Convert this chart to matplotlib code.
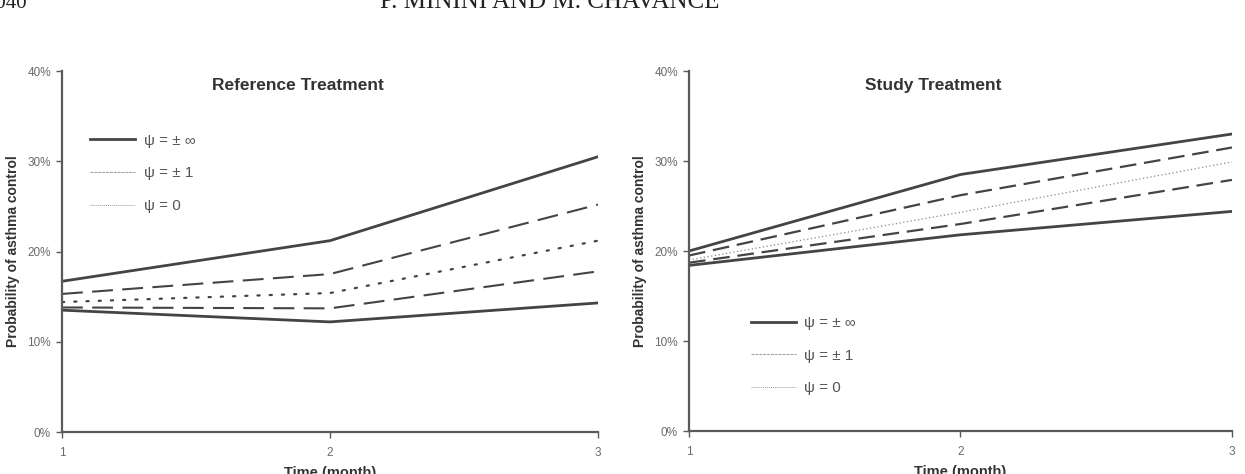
import matplotlib
matplotlib.use("Agg")
import matplotlib.pyplot as plt
from matplotlib.lines import Line2D
from matplotlib.ticker import FuncFormatter

# Data, probability in %
months = [1, 2, 3]

ref_upper_inf = [16.7, 21.2, 30.5]
ref_upper_one = [15.3, 17.5, 25.2]
ref_zero = [14.4, 15.4, 21.2]
ref_lower_one = [13.8, 13.7, 17.8]
ref_lower_inf = [13.5, 12.2, 14.3]

study_upper_inf = [20.0, 28.5, 33.0]
study_upper_one = [19.5, 26.2, 31.5]
study_zero = [19.0, 24.3, 29.9]
study_lower_one = [18.7, 23.0, 27.9]
study_lower_inf = [18.4, 21.8, 24.4]

legend_labels = ["\u03c8 = \u00b1 \u221e", "\u03c8 = \u00b1 1", "\u03c8 = 0"]
yticks = [0, 10, 20, 30, 40]

dark = "#444444"
spine_c = "#5a5a5a"
tick_c = "#6a6a6a"

plt.rcParams['font.family'] = ['Liberation Sans', 'DejaVu Sans']

fig = plt.figure(figsize=(12.45, 4.74), dpi=100, facecolor="w")

# running page header, mostly cut off at the top (as in the scan)
fig.text(-0.012, 0.983, "1040", fontsize=15, family="Liberation Serif",
         color="#222222", va="baseline", ha="left")
fig.text(0.305, 0.983, "P. MININI AND M. CHAVANCE", fontsize=18,
         family="Liberation Serif", color="#222222", va="baseline", ha="left")

ax0 = fig.add_axes([0.0498, 0.0886, 0.4305, 0.7616])
ax1 = fig.add_axes([0.5534, 0.0907, 0.4361, 0.7595])


def style_axes(ax, title, title_x):
    ax.set_xlim(1, 3)
    ax.set_ylim(0, 40)
    ax.set_xticks(months)
    ax.set_yticks(yticks)
    ax.yaxis.set_major_formatter(FuncFormatter(lambda v, p: f"{v:.0f}%"))
    for s in ["top", "right"]:
        ax.spines[s].set_visible(False)
    for s in ["left", "bottom"]:
        ax.spines[s].set_color(spine_c)
        ax.spines[s].set_linewidth(1.6)
    ax.tick_params(axis="both", colors=spine_c, labelcolor=tick_c,
                   labelsize=8.5, length=4, width=1.0, direction="out")
    ax.tick_params(axis="x", pad=7)
    ax.tick_params(axis="y", pad=4)
    ax.text(title_x, 0.96, title, transform=ax.transAxes, ha="center",
            va="center", fontsize=12.5, fontweight="bold", color="#333333")
    ax.set_xlabel("Time (month)", fontsize=10.5, fontweight="bold",
                  color="#333333", labelpad=5)
    ax.set_ylabel("Probability of asthma control", fontsize=10,
                  fontweight="bold", color="#333333", labelpad=5)


# Reference treatment
ax0.plot(months, ref_upper_inf, c=dark, lw=2.0)
ax0.plot(months, ref_upper_one, c=dark, lw=1.5, dashes=(10, 4.5))
ax0.plot(months, ref_zero, c=dark, lw=1.6, dashes=(1, 4.5),
         dash_capstyle="round")
ax0.plot(months, ref_lower_one, c=dark, lw=1.5, dashes=(10, 4.5))
ax0.plot(months, ref_lower_inf, c=dark, lw=2.0)
style_axes(ax0, "Reference Treatment", 0.44)

# Study treatment
ax1.plot(months, study_upper_inf, c=dark, lw=2.0)
ax1.plot(months, study_upper_one, c=dark, lw=1.6, dashes=(7.5, 3.5))
ax1.plot(months, study_zero, c="#888888", lw=0.9, dashes=(1, 2))
ax1.plot(months, study_lower_one, c=dark, lw=1.6, dashes=(7.5, 3.5))
ax1.plot(months, study_lower_inf, c=dark, lw=2.0)
style_axes(ax1, "Study Treatment", 0.45)

handles = [
    Line2D([], [], c=dark, lw=2.0),
    Line2D([], [], c="#9a9a9a", lw=0.7, dashes=(3, 1)),
    Line2D([], [], c="#9a9a9a", lw=0.7, dashes=(1, 1)),
]

for ax, anchor in [(ax0, (0.041, 0.843)), (ax1, (0.103, 0.336))]:
    leg = ax.legend(handles, legend_labels, loc="upper left",
                    bbox_to_anchor=anchor, frameon=False, fontsize=11,
                    handlelength=2.95, handletextpad=0.55, labelspacing=1.22,
                    borderaxespad=0)
    for t in leg.get_texts():
        t.set_color("#555555")

plt.savefig("out.png", dpi=100, transparent=False)
